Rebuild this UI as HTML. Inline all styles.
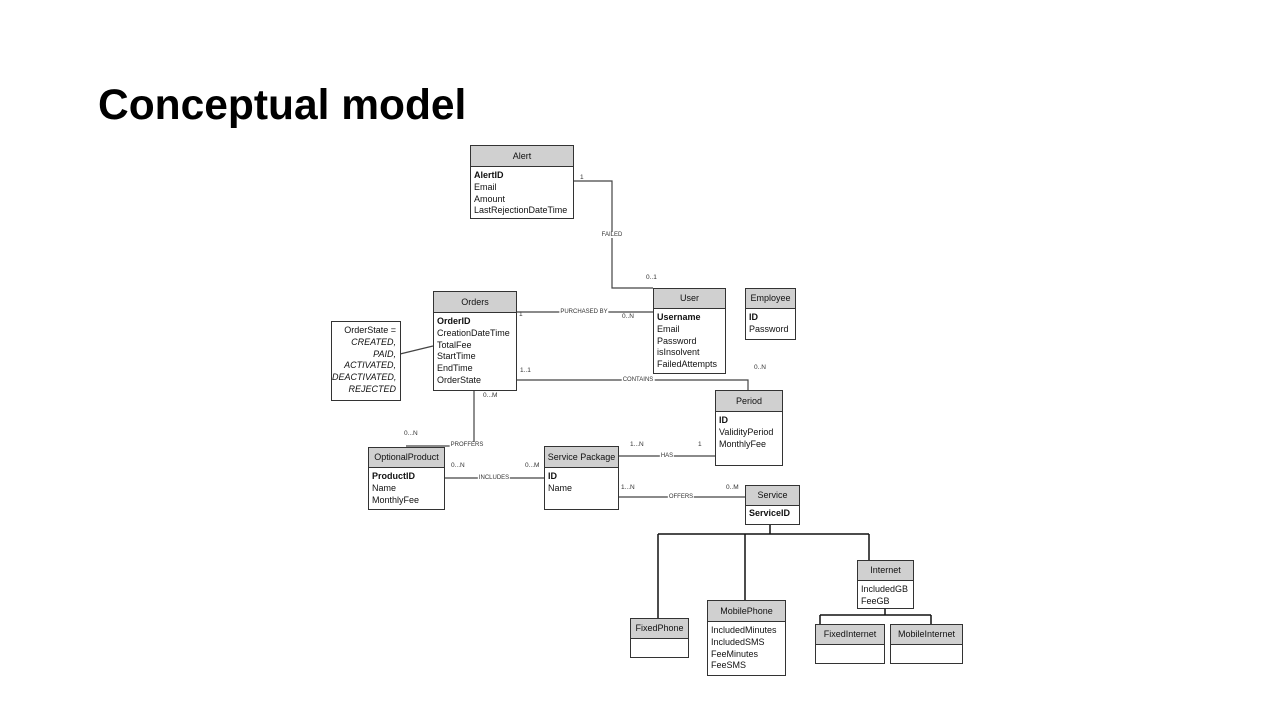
<!DOCTYPE html>
<html><head><meta charset="utf-8"><style>
body{margin:0;width:1280px;height:720px;background:#fff;position:relative;overflow:hidden;font-family:"Liberation Sans",sans-serif}
h1{position:absolute;left:98px;top:82px;margin:0;font-size:42.5px;font-weight:bold;color:#000}
.b{position:absolute;border:1.3px solid #333;background:#fff;box-sizing:border-box;font-size:9px;color:#111}
.h{background:#d0d0d0;border-bottom:1.3px solid #333;text-align:center;box-sizing:border-box}
.a{padding:3px 0 0 3px;line-height:11.8px}
.l{position:absolute;font-size:6px;color:#333;background:#fff;padding:0 1px;transform:translate(-50%,-50%)}
.c{position:absolute;font-size:6.5px;color:#333}
svg{position:absolute;left:0;top:0}
</style></head><body>
<h1>Conceptual model</h1>
<svg width="1280" height="720"><g stroke="#444" stroke-width="1.2" fill="none">
<polyline points="573,181 612,181 612,288 653,288"/>
<line x1="516" y1="312" x2="653" y2="312"/>
<polyline points="516,380 748,380 748,390"/>
<polyline points="474,390 474,446 406,446"/>
<line x1="400" y1="354" x2="433" y2="346"/>
<line x1="618" y1="456" x2="715" y2="456"/>
<line x1="444" y1="478" x2="544" y2="478"/>
<line x1="618" y1="497" x2="745" y2="497"/>
<g stroke="#111" stroke-width="1.5">
<polyline points="770,524 770,534"/><line x1="658" y1="534" x2="869" y2="534"/>
<line x1="658" y1="534" x2="658" y2="618"/><line x1="745" y1="534" x2="745" y2="600"/><line x1="869" y1="534" x2="869" y2="560"/>
<line x1="885" y1="608" x2="885" y2="615"/><line x1="820" y1="615" x2="931" y2="615"/>
<line x1="820" y1="615" x2="820" y2="624"/><line x1="931" y1="615" x2="931" y2="624"/></g>
</g></svg>
<div class="b" style="left:470px;top:145px;width:104px;height:74px"><div class="h" style="height:21px;line-height:20px">Alert</div><div class="a"><b>AlertID</b><br>Email<br>Amount<br>LastRejectionDateTime</div></div>
<div class="b" style="left:433px;top:291px;width:84px;height:100px"><div class="h" style="height:21px;line-height:20px">Orders</div><div class="a"><b>OrderID</b><br>CreationDateTime<br>TotalFee<br>StartTime<br>EndTime<br>OrderState</div></div>
<div class="b" style="left:653px;top:288px;width:73px;height:86px"><div class="h" style="height:20px;line-height:19px">User</div><div class="a"><b>Username</b><br>Email<br>Password<br>isInsolvent<br>FailedAttempts</div></div>
<div class="b" style="left:745px;top:288px;width:51px;height:52px"><div class="h" style="height:20px;line-height:19px">Employee</div><div class="a"><b>ID</b><br>Password</div></div>
<div class="b" style="left:331px;top:321px;width:70px;height:80px;text-align:right;padding:3px 4px 0 0;line-height:11.8px">OrderState =<br><i>CREATED,<br>PAID,<br>ACTIVATED,<br>DEACTIVATED,<br>REJECTED</i></div>
<div class="b" style="left:715px;top:390px;width:68px;height:76px"><div class="h" style="height:21px;line-height:20px">Period</div><div class="a"><b>ID</b><br>ValidityPeriod<br>MonthlyFee</div></div>
<div class="b" style="left:368px;top:447px;width:77px;height:63px"><div class="h" style="height:20px;line-height:19px">OptionalProduct</div><div class="a"><b>ProductID</b><br>Name<br>MonthlyFee</div></div>
<div class="b" style="left:544px;top:446px;width:75px;height:64px"><div class="h" style="height:21px;line-height:20px">Service Package</div><div class="a"><b>ID</b><br>Name</div></div>
<div class="b" style="left:745px;top:485px;width:55px;height:40px"><div class="h" style="height:20px;line-height:19px">Service</div><div class="a" style="padding-top:2px"><b>ServiceID</b></div></div>
<div class="b" style="left:857px;top:560px;width:57px;height:49px"><div class="h" style="height:20px;line-height:19px">Internet</div><div class="a">IncludedGB<br>FeeGB</div></div>
<div class="b" style="left:630px;top:618px;width:59px;height:40px"><div class="h" style="height:20px;line-height:19px">FixedPhone</div></div>
<div class="b" style="left:707px;top:600px;width:79px;height:76px"><div class="h" style="height:21px;line-height:20px">MobilePhone</div><div class="a">IncludedMinutes<br>IncludedSMS<br>FeeMinutes<br>FeeSMS</div></div>
<div class="b" style="left:815px;top:624px;width:70px;height:40px"><div class="h" style="height:20px;line-height:19px">FixedInternet</div></div>
<div class="b" style="left:890px;top:624px;width:73px;height:40px"><div class="h" style="height:20px;line-height:19px">MobileInternet</div></div>
<div class="l" style="left:612px;top:235px">FAILED</div>
<div class="l" style="left:584px;top:312px">PURCHASED BY</div>
<div class="l" style="left:638px;top:380px">CONTAINS</div>
<div class="l" style="left:467px;top:445px">PROFFERS</div>
<div class="l" style="left:667px;top:456px">HAS</div>
<div class="l" style="left:494px;top:478px">INCLUDES</div>
<div class="l" style="left:681px;top:497px">OFFERS</div>
<div class="c" style="left:580px;top:174px">1</div>
<div class="c" style="left:646px;top:274px">0..1</div>
<div class="c" style="left:519px;top:311px">1</div>
<div class="c" style="left:622px;top:313px">0..N</div>
<div class="c" style="left:520px;top:367px">1..1</div>
<div class="c" style="left:754px;top:364px">0..N</div>
<div class="c" style="left:483px;top:392px">0...M</div>
<div class="c" style="left:404px;top:430px">0...N</div>
<div class="c" style="left:630px;top:441px">1...N</div>
<div class="c" style="left:698px;top:441px">1</div>
<div class="c" style="left:451px;top:462px">0...N</div>
<div class="c" style="left:525px;top:462px">0...M</div>
<div class="c" style="left:621px;top:484px">1...N</div>
<div class="c" style="left:726px;top:484px">0..M</div>
</body></html>
